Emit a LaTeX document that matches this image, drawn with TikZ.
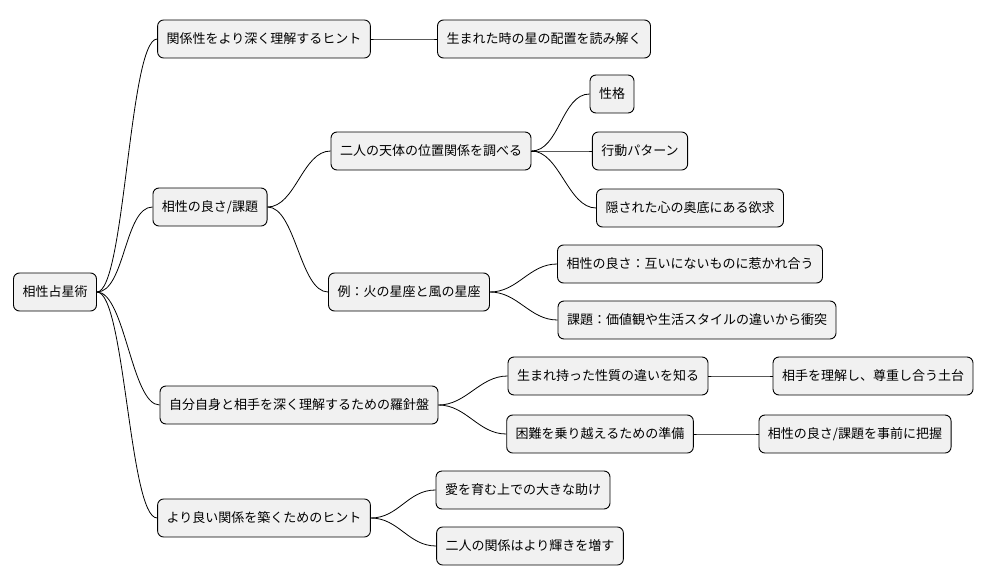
\documentclass[tikz,border=0pt]{standalone}
\usepackage{fontspec}
\setmainfont{Noto Sans CJK JP}
\definecolor{boxfill}{HTML}{F1F1F1}
\tikzstyle{topic} = [draw, rectangle, rounded corners=6pt, fill=boxfill, line width=0.9pt, minimum height=38pt, inner xsep=9pt, font=\fontsize{13pt}{15pt}\selectfont]
\tikzstyle{branch} = [line width=0.8pt]

\begin{document}
\begin{tikzpicture}[x=1pt, y=-1pt]
    \useasboundingbox (0,0) rectangle (992,583);

    % Root and first level.
    \node (root) [topic] at (55,292) {相性占星術};
    \node (hint) [topic] at (264,39) {関係性をより深く理解するヒント};
    \node (match) [topic] at (210,207) {相性の良さ/課題};
    \node (compass) [topic] at (299,405) {自分自身と相手を深く理解するための羅針盤};
    \node (better) [topic] at (264,518) {より良い関係を築くためのヒント};

    % Second level.
    \node (birth) [topic] at (544,39) {生まれた時の星の配置を読み解く};
    \node (planets) [topic] at (431,151) {二人の天体の位置関係を調べる};
    \node (example) [topic] at (409,292) {例：火の星座と風の星座};
    \node (nature) [topic] at (608,376) {生まれ持った性質の違いを知る};
    \node (prepare) [topic] at (600,434) {困難を乗り越えるための準備};
    \node (love) [topic] at (523,490) {愛を育む上での大きな助け};
    \node (shine) [topic] at (530,546) {二人の関係はより輝きを増す};

    % Third level.
    \node (char) [topic] at (612,94) {性格};
    \node (act) [topic] at (640,151) {行動パターン};
    \node (desire) [topic] at (690,208) {隠された心の奥底にある欲求};
    \node (good) [topic] at (690,264) {相性の良さ：互いにないものに惹かれ合う};
    \node (clash) [topic] at (697,320) {課題：価値観や生活スタイルの違いから衝突};
    \node (respect) [topic] at (873,376) {相手を理解し、尊重し合う土台};
    \node (grasp) [topic] at (855,434) {相性の良さ/課題を事前に把握};

    % Branches.
    \foreach \a/\b in {root/hint, root/match, root/compass, root/better,
        hint/birth, match/planets, match/example, compass/nature, compass/prepare,
        better/love, better/shine, planets/char, planets/act, planets/desire,
        example/good, example/clash, nature/respect, prepare/grasp} {
        \draw [branch] (\a.east) .. controls +(28,0) and +(-28,0) .. (\b.west);
    }
\end{tikzpicture}
\end{document}
